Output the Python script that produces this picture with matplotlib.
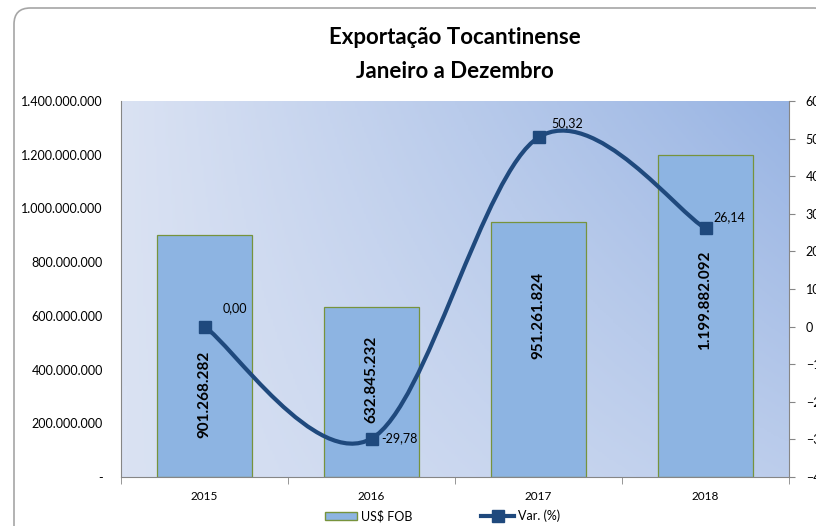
import matplotlib
matplotlib.use("Agg")
import matplotlib.pyplot as plt
import numpy as np
from matplotlib.path import Path
from matplotlib.patches import PathPatch, FancyBboxPatch
from matplotlib.lines import Line2D
from matplotlib.colors import LinearSegmentedColormap

plt.rcParams['font.family'] = ['Lato', 'DejaVu Sans']

# dados
anos = ['2015', '2016', '2017', '2018']
fob = [901268282, 632845232, 951261824, 1199882092]
fob_rotulos = ['901.268.282', '632.845.232', '951.261.824', '1.199.882.092']
variacao = [0.00, -29.78, 50.32, 26.14]
var_rotulos = ['0,00', '-29,78', '50,32', '26,14']
rotulo_y = [3.09e8, 3.65e8, 6.0e8, 6.59e8]  # posicao dos rotulos nas barras

cor_barra = '#8db4e2'
cor_borda = '#77933c'
cor_linha = '#1f497d'
cor_eixo = '#868686'


def curva_suave(xs, ys):
    """Caminho Bezier estilo Excel (linha suavizada)."""
    pts = np.column_stack([xs, ys]).astype(float)
    n = len(pts)
    verts = [pts[0]]
    codes = [Path.MOVETO]
    for i in range(n - 1):
        p_ant = pts[max(i - 1, 0)]
        p0 = pts[i]
        p1 = pts[i + 1]
        p_prox = pts[min(i + 2, n - 1)]
        c1 = p0 + (p1 - p_ant) / 6.0
        c2 = p1 - (p_prox - p0) / 6.0
        verts += [c1, c2, p1]
        codes += [Path.CURVE4] * 3
    return Path(verts, codes)


fig = plt.figure(figsize=(8.16, 5.26), dpi=100)

# moldura arredondada
moldura = FancyBboxPatch((14 / 816, -0.05), 1.0, 1 - 8 / 526 + 0.05,
                         boxstyle="round,pad=0,rounding_size=0.02",
                         transform=fig.transFigure, facecolor='white',
                         edgecolor='#a6a6a6', linewidth=1.2, clip_on=False,
                         mutation_aspect=816 / 526, zorder=-10)
fig.patches.append(moldura)

ax = fig.add_axes([121 / 816, 1 - 477 / 526, 668 / 816, 376 / 526])
ax.set_facecolor('none')

# fundo em degrade
gx, gy = np.meshgrid(np.linspace(0, 1, 300), np.linspace(0, 1, 200))
grad = gx * (0.45 + 0.55 * gy)
cmap = LinearSegmentedColormap.from_list('fundo', ['#dae2f3', '#98b4e3'])
ax.imshow(grad, cmap=cmap, vmin=0, vmax=1, extent=[0, 1, 0, 1],
          origin='lower', transform=ax.transAxes, aspect='auto', zorder=0)

x = np.arange(len(anos))
ax.bar(x, fob, width=0.57, color=cor_barra, edgecolor=cor_borda,
       linewidth=0.9, zorder=2)
for xi, txt, yy in zip(x, fob_rotulos, rotulo_y):
    ax.text(xi, yy, txt, rotation=90, ha='center', va='center',
            fontsize=11, fontweight='bold', color='black', zorder=5)

ax.set_xlim(-0.5, len(anos) - 0.5)
ax.set_ylim(0, 1.4e9)
ax.set_yticks(np.arange(0, 1.4e9 + 1, 2e8))
ax.set_yticklabels(['-'] + ['{:,.0f}'.format(v).replace(',', '.')
                            for v in np.arange(2e8, 1.4e9 + 1, 2e8)])
ax.set_xticks(x)
ax.set_xticklabels(anos)
ax.set_xticks(np.arange(-0.5, len(anos), 1), minor=True)
ax.tick_params(axis='x', which='major', length=0, labelsize=8.5, pad=10)
ax.tick_params(axis='x', which='minor', length=5, color=cor_eixo)
ax.tick_params(axis='y', length=0, color=cor_eixo, labelsize=9, pad=13)
for s in ['left', 'bottom']:
    ax.spines[s].set_color(cor_eixo)
for s in ['top', 'right']:
    ax.spines[s].set_visible(False)

ax2 = ax.twinx()
ax2.set_ylim(-40, 60)
ax2.set_yticks(np.arange(-40, 61, 10))
ax2.tick_params(axis='y', length=4, color=cor_eixo, labelsize=9, pad=8)
for s in ['left', 'top', 'bottom']:
    ax2.spines[s].set_visible(False)
ax2.spines['right'].set_color(cor_eixo)

ax2.add_patch(PathPatch(curva_suave(x, variacao), facecolor='none',
                        edgecolor=cor_linha, linewidth=3.0,
                        capstyle='round', zorder=3))
ax2.plot(x, variacao, linestyle='none', marker='s', markersize=9,
         color=cor_linha, zorder=4)
desloc = [(0.18, 5.0), (0.17, 0.0), (0.17, 3.7), (0.14, 3.0)]
for xi, v, txt, (dx, dy) in zip(x, variacao, var_rotulos, desloc):
    ax2.text(xi + dx, v + dy, txt, ha='center', va='center', fontsize=9,
             color='black', zorder=5)

fig.text(0.557, 1 - 38 / 526, 'Exportação Tocantinense', ha='center',
         va='center', fontsize=16, fontweight='bold')
fig.text(0.557, 1 - 71 / 526, 'Janeiro a Dezembro', ha='center',
         va='center', fontsize=16, fontweight='bold')

itens = [plt.Rectangle((0, 0), 1, 1, facecolor=cor_barra, edgecolor=cor_borda),
         Line2D([0], [0], color=cor_linha, linewidth=3.0, marker='s',
                markersize=8)]
fig.legend(itens, ['US$ FOB', 'Var. (%)'], loc='center',
           bbox_to_anchor=(0.542, 1 - 516 / 526), ncol=2, frameon=False,
           fontsize=9, handlelength=2.6, columnspacing=5.5,
           handletextpad=0.3)

fig.savefig('out.png', dpi=100)
plt.close(fig)
